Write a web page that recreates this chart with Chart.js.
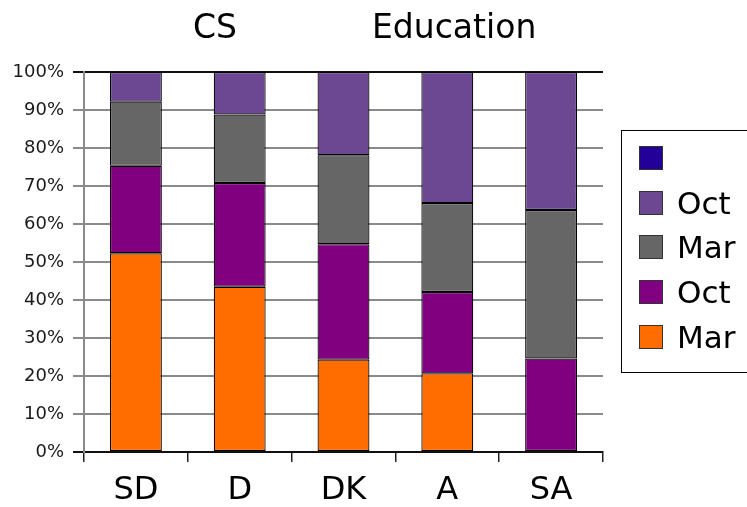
<!DOCTYPE html>
<html>
<head>
<meta charset="utf-8">
<script src="https://cdn.jsdelivr.net/npm/chart.js@4.4.0/dist/chart.umd.min.js"></script>
<style>
    body { margin: 0; background: #fff; font-family: 'DejaVu Sans', sans-serif; }
    #wrap { position: relative; width: 747px; height: 507px; overflow: hidden; }
    .title { position: absolute; top: 8px; font-size: 33px; line-height: 38px; color: #000; white-space: nowrap; }
    #legend { position: absolute; left: 621px; top: 130px; width: 150px; height: 243px; border: 1px solid #000; box-sizing: border-box; }
    .item { position: absolute; left: 17px; height: 30px; display: flex; align-items: center; font-size: 31px; color: #000; white-space: nowrap; }
    .box { width: 24px; height: 24px; border: 1px solid #333; margin-right: 14px; box-sizing: border-box; }
</style>
</head>
<body>
<div id="wrap">
    <canvas id="chart" width="747" height="507"></canvas>
    <div class="title" style="left:193px">CS</div>
    <div class="title" style="left:372px">Education</div>
    <div id="legend"></div>
</div>
<script>
    // Categories and series (percent of each bar)
    const categories = ['SD', 'D', 'DK', 'A', 'SA'];
    const marFirst = [52.3, 43.5, 24.3, 20.7, 0];
    const octFirst = [23.0, 27.3, 30.4, 21.4, 24.6];
    const marSecond = [16.9, 18.0, 23.4, 23.4, 39.1];
    const octSecond = [7.8, 11.2, 21.9, 34.5, 36.3];
    const unnamed = [0, 0, 0, 0, 0];
    const yTicks = [0, 10, 20, 30, 40, 50, 60, 70, 80, 90, 100];

    const datasets = [
        { label: 'Mar', data: marFirst, backgroundColor: '#ff6d00' },
        { label: 'Oct', data: octFirst, backgroundColor: '#800080' },
        { label: 'Mar', data: marSecond, backgroundColor: '#666666' },
        { label: 'Oct', data: octSecond, backgroundColor: '#6c4792' },
        { label: '', data: unnamed, backgroundColor: '#23009a' },
    ];
    datasets.forEach((d) => {
        d.borderColor = '#000';
        d.borderWidth = 1.2;
        d.borderSkipped = false;
        d.barPercentage = 0.5;
        d.categoryPercentage = 1;
    });

    const ctx = document.getElementById('chart').getContext('2d');
    const chart = new Chart(ctx, {
        type: 'bar',
        data: { labels: categories, datasets: datasets },
        options: {
            responsive: false,
            animation: false,
            layout: { padding: { top: 72, right: 144, left: 0, bottom: 0 } },
            plugins: { legend: { display: false }, tooltip: { enabled: false } },
            scales: {
                x: {
                    stacked: true,
                    afterFit: (s) => { s.height = 55; },
                    grid: {
                        offset: true,
                        drawOnChartArea: false,
                        tickLength: 10,
                        color: '#222',
                        lineWidth: 1.5,
                    },
                    border: { color: '#111', width: 1.5 },
                    ticks: {
                        font: { family: 'DejaVu Sans', size: 32 },
                        color: '#000',
                        padding: 9,
                    },
                },
                y: {
                    stacked: true,
                    min: 0,
                    max: 100,
                    afterFit: (s) => { s.width = 84; },
                    afterBuildTicks: (s) => { s.ticks = yTicks.map((v) => ({ value: v })); },
                    grid: {
                        tickLength: 11,
                        lineWidth: 2,
                        color: (c) => (c.tick && (c.tick.value === 100 || c.tick.value === 0) ? '#111' : '#8a8a8a'),
                    },
                    border: { color: '#8a8a8a', width: 2 },
                    ticks: {
                        callback: (v) => v + '%',
                        font: { family: 'DejaVu Sans', size: 18 },
                        color: '#1a1a1a',
                        padding: 9,
                    },
                },
            },
        },
    });

    // Legend, top of stack first
    const legend = document.getElementById('legend');
    datasets.slice().reverse().forEach((d, i) => {
        const item = document.createElement('div');
        item.className = 'item';
        item.style.top = (12 + i * 44.7) + 'px';
        item.innerHTML = `<span class="box" style="background:${d.backgroundColor}"></span><span>${d.label}</span>`;
        legend.appendChild(item);
    });
</script>
</body>
</html>
